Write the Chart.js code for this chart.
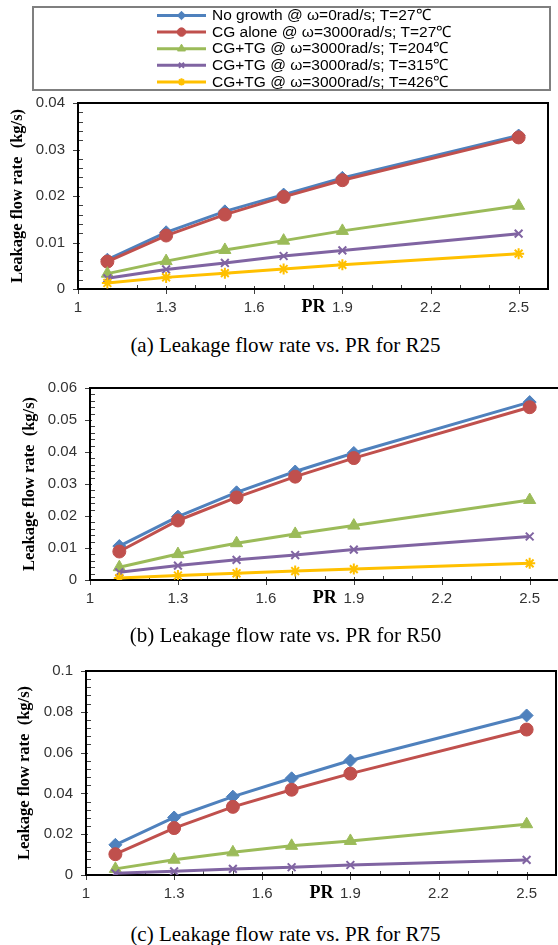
<!DOCTYPE html>
<html><head><meta charset="utf-8">
<script src="https://cdn.jsdelivr.net/npm/chart.js@4.4.0/dist/chart.umd.min.js"></script>
<style>
html,body{margin:0;padding:0;background:#fff;width:558px;height:945px;overflow:hidden;position:relative;}
canvas{position:absolute;left:0;}
.cap{position:absolute;left:0;width:571px;text-align:center;font-family:"Liberation Serif","Times New Roman",serif;font-size:21px;color:#000;line-height:24px;white-space:nowrap;}
</style></head><body>
<canvas id="c1" width="570" height="320" style="top:0px"></canvas>
<canvas id="c2" width="570" height="260" style="top:360px"></canvas>
<canvas id="c3" width="570" height="270" style="top:645px"></canvas>
<div class="cap" style="top:333px">(a) Leakage flow rate vs. PR for R25</div>
<div class="cap" style="top:623px">(b) Leakage flow rate vs. PR for R50</div>
<div class="cap" style="top:922px">(c) Leakage flow rate vs. PR for R75</div>
<script>
// ---- data ----
const prValues = [1.1, 1.3, 1.5, 1.7, 1.9, 2.5];
const xTickValues = [1, 1.3, 1.6, 1.9, 2.2, 2.5];
const xMin = 1, xMax = 2.6, xMinorStep = 0.1;
const seriesLabels = [
  "No growth @ \u03c9=0rad/s; T=27\u2103",
  "CG alone @ \u03c9=3000rad/s; T=27\u2103",
  "CG+TG @ \u03c9=3000rad/s; T=204\u2103",
  "CG+TG @ \u03c9=3000rad/s; T=315\u2103",
  "CG+TG @ \u03c9=3000rad/s; T=426\u2103"
];
const yTitle = "Leakage flow rate  (kg/s)";
const xTitle = "PR";

const r25NoGrowth = [0.0063, 0.0122, 0.0167, 0.0203, 0.0239, 0.0330];
const r25CgAlone  = [0.0059, 0.0115, 0.0160, 0.0198, 0.0234, 0.0326];
const r25Tg204    = [0.0033, 0.0060, 0.0084, 0.0104, 0.0125, 0.0179];
const r25Tg315    = [0.0023, 0.0042, 0.0056, 0.0071, 0.0083, 0.0119];
const r25Tg426    = [0.0013, 0.0025, 0.0034, 0.0043, 0.0052, 0.0076];
const r25YTicks   = [0, 0.01, 0.02, 0.03, 0.04];

const r50NoGrowth = [0.0106, 0.0198, 0.0274, 0.0339, 0.0397, 0.0556];
const r50CgAlone  = [0.0089, 0.0186, 0.0258, 0.0323, 0.0381, 0.0540];
const r50Tg204    = [0.0040, 0.0081, 0.0115, 0.0144, 0.0170, 0.0250];
const r50Tg315    = [0.0024, 0.0045, 0.0063, 0.0078, 0.0095, 0.0136];
const r50Tg426    = [0.0006, 0.0014, 0.0021, 0.0028, 0.0034, 0.0052];
const r50YTicks   = [0, 0.01, 0.02, 0.03, 0.04, 0.05, 0.06];

const r75NoGrowth = [0.0148, 0.0282, 0.0384, 0.0474, 0.0561, 0.0782];
const r75CgAlone  = [0.0102, 0.0230, 0.0334, 0.0418, 0.0497, 0.0713];
const r75Tg204    = [0.0030, 0.0075, 0.0111, 0.0143, 0.0167, 0.0249];
const r75Tg315    = [0.0008, 0.0018, 0.0030, 0.0038, 0.0049, 0.0074];
const r75YTicks   = [0, 0.02, 0.04, 0.06, 0.08, 0.1];

// ---- styles ----
const colors = ["#4F81BD", "#C0504D", "#9BBB59", "#8064A2", "#FFC000"];
const pStyles = ["rectRot", "circle", "triangle", "crossRot", "star"];
const pRadii = [6.5, 6.5, 7, 5.5, 5.5];
const pBorder = [1, 1, 1, 2, 2];
const tickFont = {family: '"Liberation Sans", Arial, sans-serif', size: 15};

function makeFramePlugin(yt) {
  return {
    id: 'frame',
    beforeDatasetsDraw(chart) {
      const {ctx, chartArea: a, scales: {x, y}} = chart;
      ctx.save();
      ctx.strokeStyle = '#404040';
      ctx.lineWidth = 1;
      const yStep = yt[1] - yt[0];
      const yMinor = yStep / 5;
      const nY = Math.round(yt[yt.length - 1] / yMinor);
      for (let i = 0; i <= nY; i++) {
        const py = Math.round(y.getPixelForValue(i * yMinor)) + 0.5;
        ctx.beginPath();
        if (i % 5 === 0) { ctx.moveTo(a.left - 5, py); ctx.lineTo(a.left + 2, py); }
        else { ctx.moveTo(a.left, py); ctx.lineTo(a.left + 5, py); }
        ctx.stroke();
      }
      const nX = Math.round((xMax - xMin) / xMinorStep);
      for (let i = 0; i < nX; i++) {
        const v = Math.round((xMin + i * xMinorStep) * 10) / 10;
        const px = Math.round(x.getPixelForValue(v)) + 0.5;
        const major = xTickValues.some(t => Math.abs(t - v) < 1e-6);
        ctx.beginPath();
        if (major) { ctx.moveTo(px, a.bottom - 3); ctx.lineTo(px, a.bottom + 5); }
        else { ctx.moveTo(px, a.bottom - 4); ctx.lineTo(px, a.bottom); }
        ctx.stroke();
      }
      ctx.strokeStyle = '#000';
      ctx.lineWidth = 2;
      ctx.strokeRect(a.left, a.top, a.right - a.left, a.bottom - a.top);
      ctx.restore();
    },
    afterDraw(chart) {
      const {ctx, chartArea: a, scales: {x}} = chart;
      ctx.save();
      ctx.font = 'bold 18px "Liberation Serif", "Times New Roman", serif';
      ctx.fillStyle = '#000';
      ctx.textAlign = 'right';
      ctx.textBaseline = 'middle';
      ctx.fillText(xTitle, x.getPixelForValue(1.9) - 17, a.bottom + 18);
      ctx.restore();
    }
  };
}

const legendPlugin = {
  id: 'boxLegend',
  afterDraw(chart) {
    const ctx = chart.ctx;
    ctx.save();
    ctx.strokeStyle = '#7f7f7f';
    ctx.lineWidth = 2;
    ctx.strokeRect(33, 7, 517, 83);
    chart.data.datasets.forEach((ds, i) => {
      const yy = 15.5 + i * 16.6;
      ctx.strokeStyle = ds.borderColor;
      ctx.lineWidth = 3;
      ctx.beginPath(); ctx.moveTo(157, yy); ctx.lineTo(206, yy); ctx.stroke();
      ctx.fillStyle = ds.backgroundColor;
      ctx.lineWidth = ds.pointBorderWidth;
      Chart.helpers.drawPoint(ctx, {pointStyle: ds.pointStyle, radius: ds.pointRadius * 0.65, borderWidth: ds.pointBorderWidth, rotation: 0}, 181.5, yy);
      ctx.fillStyle = '#000';
      ctx.font = '15.5px "Liberation Sans", Arial, sans-serif';
      ctx.textAlign = 'left';
      ctx.textBaseline = 'middle';
      ctx.fillText(ds.label, 212, yy + 0.5);
    });
    ctx.restore();
  }
};

function makeChart(id, seriesData, yTicks, L) {
  const datasets = seriesData.map((vals, i) => ({
    label: seriesLabels[i],
    data: prValues.map((xv, j) => ({x: xv, y: vals[j]})),
    borderColor: colors[i],
    backgroundColor: colors[i],
    pointStyle: pStyles[i],
    pointRadius: pRadii[i],
    pointHoverRadius: pRadii[i],
    pointBorderWidth: pBorder[i],
    borderWidth: 3,
    tension: 0,
    fill: false,
    order: 10 - i
  }));
  const fp = makeFramePlugin(yTicks);
  return new Chart(document.getElementById(id), {
    type: 'line',
    data: {datasets},
    options: {
      responsive: false, animation: false, devicePixelRatio: 1,
      layout: {padding: {top: L.top, right: 570 - L.right, bottom: L.bottom, left: 0}},
      plugins: {legend: {display: false}, tooltip: {enabled: false}},
      scales: {
        x: {
          type: 'linear', min: xMin, max: xMax,
          afterBuildTicks: s => { s.ticks = xTickValues.map(v => ({value: v})); },
          afterFit: s => { s.height = 30; },
          grid: {display: false, drawTicks: false},
          border: {display: false},
          ticks: {padding: 10, font: tickFont, color: '#333', maxRotation: 0, autoSkip: false, callback: v => String(v)}
        },
        y: {
          type: 'linear', min: 0, max: yTicks[yTicks.length - 1],
          afterBuildTicks: s => { s.ticks = yTicks.map(v => ({value: v})); },
          afterFit: s => { s.width = L.left; },
          grid: {display: false, drawTicks: false},
          border: {display: false},
          ticks: {padding: 13, font: tickFont, color: '#333', autoSkip: false, callback: v => String(v)},
          title: {display: true, text: yTitle, color: '#000',
            font: {family: '"Liberation Serif", "Times New Roman", serif', size: 16.5, weight: 'bold'},
            padding: {top: L.titlePad, bottom: 0}}
        }
      }
    },
    plugins: L.legend ? [fp, legendPlugin] : [fp]
  });
}

makeChart('c1', [r25NoGrowth, r25CgAlone, r25Tg204, r25Tg315, r25Tg426], r25YTicks,
  {top: 103, bottom: 1, left: 78, right: 548, titlePad: 8, legend: true});
makeChart('c2', [r50NoGrowth, r50CgAlone, r50Tg204, r50Tg315, r50Tg426], r50YTicks,
  {top: 28, bottom: 10, left: 90, right: 559, titlePad: 20});
makeChart('c3', [r75NoGrowth, r75CgAlone, r75Tg204, r75Tg315], r75YTicks,
  {top: 26, bottom: 10, left: 86, right: 556, titlePad: 15});
</script>
</body></html>
